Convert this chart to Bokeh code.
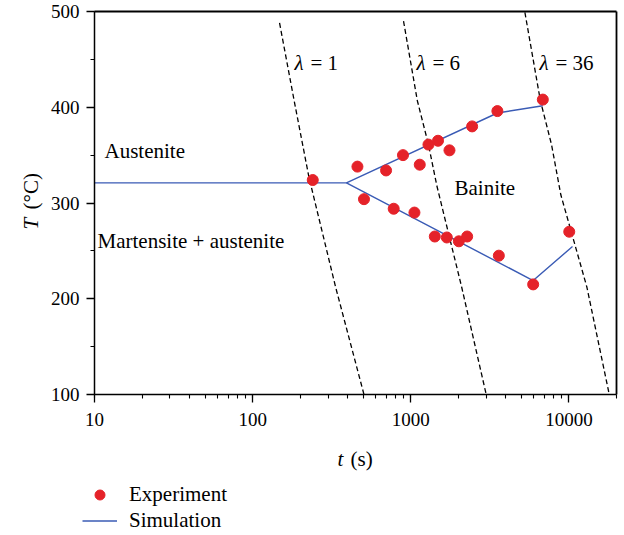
import math
from bokeh.plotting import figure
from bokeh.models import (Range1d, Label, Legend, LegendItem, LogTicker, LogAxis, LinearAxis,
                          SingleIntervalTicker, FixedTicker, PrintfTickFormatter)
from bokeh.embed import file_html
from bokeh.resources import INLINE

# ---- data ----
exp_t = [240, 460, 698, 893, 1140, 1294, 1487, 1757, 2444, 3530, 6840,
         506, 780, 1055, 1419, 1690, 2014, 2273, 3605, 5944, 10050]
exp_T = [324, 338, 334, 350, 340, 361, 365, 355, 380, 396, 408,
         304, 294, 290, 265, 264, 260, 265, 245, 215, 270]

sim_upper_t = [10, 392, 3530, 6840]
sim_upper_T = [321, 321, 394, 401.5]
sim_lower_t = [392, 5944, 10540]
sim_lower_T = [321, 219, 254.6]

lam1_t = [148, 183, 227, 335, 506]
lam1_T = [488, 407, 327, 212, 100]
lam6_t = [900, 1100, 1294, 1462, 2100, 3000]
lam6_T = [490, 407, 361, 318, 212, 100]
lam36_t = [5270, 6600, 7764, 8890, 13000, 18000]
lam36_T = [499, 407, 361, 308.6, 212, 100]

t_min, t_max = 10, 20000
T_min, T_max = 100, 500

FONT = "Liberation Serif"
RED = "#e52229"
BLUE = "#3a5bb5"

# frame spans the whole canvas; axes are pinned at the data limits
W, H = 624, 535
L_PX, R_PX, TOP_PX, BOT_PX = 94, 616, 11, 394
dec = (R_PX - L_PX) / math.log10(t_max / t_min)
pxT = (BOT_PX - TOP_PX) / (T_max - T_min)
xr = Range1d(t_min * 10 ** (-L_PX / dec), t_min * 10 ** ((W - L_PX) / dec))
yr = Range1d(T_min - (H - BOT_PX) / pxT, T_max + TOP_PX / pxT)

def tx(px):
    return t_min * 10 ** ((px - L_PX) / dec)

def ty(py):
    return T_max - (py - TOP_PX) / pxT

p = figure(width=W, height=H, x_axis_type="log", x_range=xr, y_range=yr,
           output_backend="svg", toolbar_location=None,
           min_border=0, min_border_left=0, min_border_right=0,
           min_border_top=0, min_border_bottom=0)
p.grid.visible = False
p.outline_line_color = None
p.background_fill_color = "white"
p.border_fill_color = "white"

p.xaxis.ticker = LogTicker(num_minor_ticks=10)
p.xaxis.formatter = PrintfTickFormatter(format="%d")
p.xaxis.fixed_location = T_min
p.xaxis.bounds = (t_min, t_max)
p.yaxis.ticker = SingleIntervalTicker(interval=100, num_minor_ticks=2)
p.yaxis.fixed_location = t_min
p.yaxis.bounds = (T_min, T_max)
for ax in (p.xaxis[0], p.yaxis[0]):
    ax.axis_line_color = "black"
    ax.axis_line_width = 1.5
    ax.major_tick_line_color = "black"
    ax.major_tick_line_width = 1.3
    ax.minor_tick_line_color = "black"
    ax.minor_tick_line_width = 1.1
    ax.major_tick_out = 8
    ax.major_tick_in = 0
    ax.minor_tick_out = 4
    ax.minor_tick_in = 0
    ax.major_label_text_font = FONT
    ax.major_label_text_font_size = "19px"
    ax.major_label_text_color = "black"
p.xaxis.major_label_standoff = 10
p.yaxis.major_label_standoff = 7

# top and right frame lines
top_ax = LogAxis(fixed_location=T_max, bounds=(t_min, t_max), ticker=FixedTicker(ticks=[]),
                 axis_line_color="black", axis_line_width=1.8,
                 major_label_text_font_size="0px")
right_ax = LinearAxis(fixed_location=t_max, bounds=(T_min, T_max), ticker=FixedTicker(ticks=[]),
                      axis_line_color="black", axis_line_width=1.8,
                      major_label_text_font_size="0px")
p.add_layout(top_ax, "above")
p.add_layout(right_ax, "right")

# dashed lambda curves
for tt, TT in ((lam1_t, lam1_T), (lam6_t, lam6_T), (lam36_t, lam36_T)):
    p.line(tt, TT, line_color="black", line_width=1.3, line_dash="5 3")

sim_r = p.multi_line([sim_upper_t, sim_lower_t], [sim_upper_T, sim_lower_T],
                     line_color=BLUE, line_width=1.4)
exp_r = p.scatter(exp_t, exp_T, marker="circle", size=11,
                  fill_color=RED, line_color=RED)

def lab(x, y, text, size="21px", style="normal", angle=0.0, x_offset=0):
    p.add_layout(Label(x=x, y=y, text=text, text_font=FONT, text_font_size=size,
                       text_font_style=style, text_align="left",
                       text_baseline="alphabetic", text_color="black",
                       angle=angle, x_offset=x_offset))

lab(tx(104), ty(150), "Austenite")
lab(tx(97), ty(240.7), "Martensite + austenite")
lab(tx(454), ty(187.3), "Bainite")
for px, num in ((294, "1"), (416, "6"), (539, "36")):
    lab(tx(px), ty(62.5), "λ", style="italic")
    lab(tx(px), ty(62.5), "= " + num, x_offset=16)

# axis titles
lab(tx(337), ty(458.3), "t", style="italic")
lab(tx(350), ty(458.3), "(s)")
lab(tx(30), ty(229), "T", style="italic", angle=math.pi / 2)
lab(tx(30), ty(209), "(°C)", angle=math.pi / 2)

legend = Legend(items=[LegendItem(label="Experiment", renderers=[exp_r]),
                       LegendItem(label="Simulation", renderers=[sim_r])],
                location=(82, 2), orientation="vertical",
                glyph_width=35, glyph_height=25, label_height=20, spacing=1,
                padding=0, margin=0, label_standoff=12,
                label_text_font=FONT, label_text_font_size="21px",
                label_text_color="black", border_line_color=None,
                background_fill_alpha=0)
p.add_layout(legend, "center")

open("out.html", "w").write(file_html(p, INLINE))
